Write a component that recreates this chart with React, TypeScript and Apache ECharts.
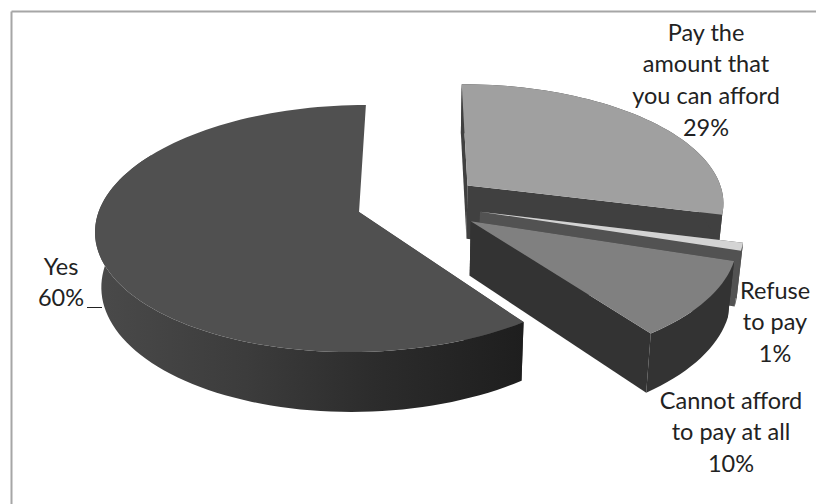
import React, { useEffect, useRef } from "react";
import * as echarts from "echarts";

// Survey answers, in drawing order (clockwise from the first slice).
const answers = ["Yes", "Pay the\namount that\nyou can afford", "Refuse\nto pay", "Cannot afford\nto pay at all"];
const shares = [60, 29, 1, 10];

// Styling per slice: how far it is pulled out, and its face colours.
const explode = [0.236, 0.25, 0.25, 0.25];
const topFill = ["#505050", "#a0a0a0", "#d4d4d4", "#808080"];
const wallFill = ["#3a3a3a", "#404040", "#525252", "#333333"];
const labelAnchor = [[61, 250], [706, 16], [775, 274], [731, 384]];

// Clockwise angle (degrees from twelve o'clock) at which the first slice begins.
const firstSliceAngle = 144;

// Perspective camera for the tilted disc.
const cam = { x0: 417.5, y0: 203.3, A: 119, B: 258, k: 0.132, depth: 55, shrink: 0.02 };

const project = (u: number, v: number, z: number): number[] => {
  const s = 1 / ((1 - cam.k * v) * (1 + cam.shrink * z));
  return [cam.x0 + cam.B * u * s, cam.y0 + (cam.A * v + cam.depth * z) * s];
};

const rim = (a: number, ox: number, oy: number, z: number) => {
  const r = (a * Math.PI) / 180;
  return project(ox + Math.sin(r), oy - Math.cos(r), z);
};

const arcPoints = (a0: number, a1: number, ox: number, oy: number, z: number) => {
  const n = Math.max(2, Math.ceil(Math.abs(a1 - a0) / 2));
  const pts: number[][] = [];
  for (let i = 0; i <= n; i++) pts.push(rim(a0 + ((a1 - a0) * i) / n, ox, oy, z));
  return pts;
};

const total = shares.reduce((s, v) => s + v, 0);

const yesWall = {
  type: "linear", x: 0, y: 0, x2: 1, y2: 0,
  colorStops: [
    { offset: 0, color: "#4a4a4a" },
    { offset: 0.35, color: "#3c3c3c" },
    { offset: 0.65, color: "#2c2c2c" },
    { offset: 1, color: "#1e1e1e" },
  ],
};

const renderSlice = (params: any, api: any) => {
  const i = params.dataIndex;
  const before = shares.slice(0, i).reduce((s, v) => s + v, 0);
  const a0 = firstSliceAngle + (before / total) * 360;
  const a1 = a0 + (api.value(0) / total) * 360;
  const mid = (((a0 + a1) / 2) * Math.PI) / 180;
  const ox = explode[i] * Math.sin(mid);
  const oy = -explode[i] * Math.cos(mid);

  const wall = wallFill[i];
  const poly = (points: number[][], fill: any) => ({
    type: "polygon",
    shape: { points },
    style: { fill, stroke: "none" },
  });
  const radial = (a: number) =>
    poly([project(ox, oy, 0), rim(a, ox, oy, 0), rim(a, ox, oy, 1), project(ox, oy, 1)], wall);

  // The large slice's outer wall only shows along the front of the disc, so the
  // part that runs round the back is left out and its back wall is not drawn.
  const wallEnd = i === 0 ? Math.min(a1, 300) : a1;
  const rimWall = [...arcPoints(a0, wallEnd, ox, oy, 0), ...arcPoints(wallEnd, a0, ox, oy, 1)];
  const topFace = [project(ox, oy, 0), ...arcPoints(a0, a1, ox, oy, 0)];
  const walls = i === 0 ? [radial(a0)] : [radial(a0), radial(a1)];

  return {
    type: "group",
    children: [...walls, poly(rimWall, i === 0 ? yesWall : wall), poly(topFace, topFill[i])],
  };
};

export default function App() {
  const ref = useRef<HTMLDivElement>(null);

  useEffect(() => {
    const chart = echarts.init(ref.current!, null, { renderer: "svg" });
    chart.setOption({
      animation: false,
      backgroundColor: "#ffffff",
      series: [
        {
          type: "custom",
          coordinateSystem: "none",
          renderItem: renderSlice,
          data: shares.map((v, i) => ({ name: answers[i], value: [v] })),
          silent: true,
        },
      ],
      graphic: [
        // Only the top and left sides of the frame are visible.
        { type: "line", shape: { x1: 11.5, y1: 11.5, x2: 816, y2: 11.5 }, style: { stroke: "#a6a6a6", lineWidth: 2 } },
        { type: "line", shape: { x1: 11.5, y1: 11.5, x2: 11.5, y2: 504 }, style: { stroke: "#a6a6a6", lineWidth: 2 } },
        // Leader line of the "Yes" label.
        { type: "line", shape: { x1: 87, y1: 307.5, x2: 102, y2: 307.5 }, style: { stroke: "#222222", lineWidth: 1 } },
        ...answers.map((name, i) => ({
          type: "text",
          x: labelAnchor[i][0],
          y: labelAnchor[i][1],
          style: {
            text: `${name}\n${shares[i]}%`,
            fill: "#222222",
            font: '23.5px Lato, "Open Sans", sans-serif',
            textAlign: "center",
            textVerticalAlign: "top",
            lineHeight: 31.6,
          },
        })),
      ],
    });
    return () => chart.dispose();
  }, []);

  return <div ref={ref} style={{ position: "absolute", left: 0, top: 0, width: 816, height: 504 }} />;
}
